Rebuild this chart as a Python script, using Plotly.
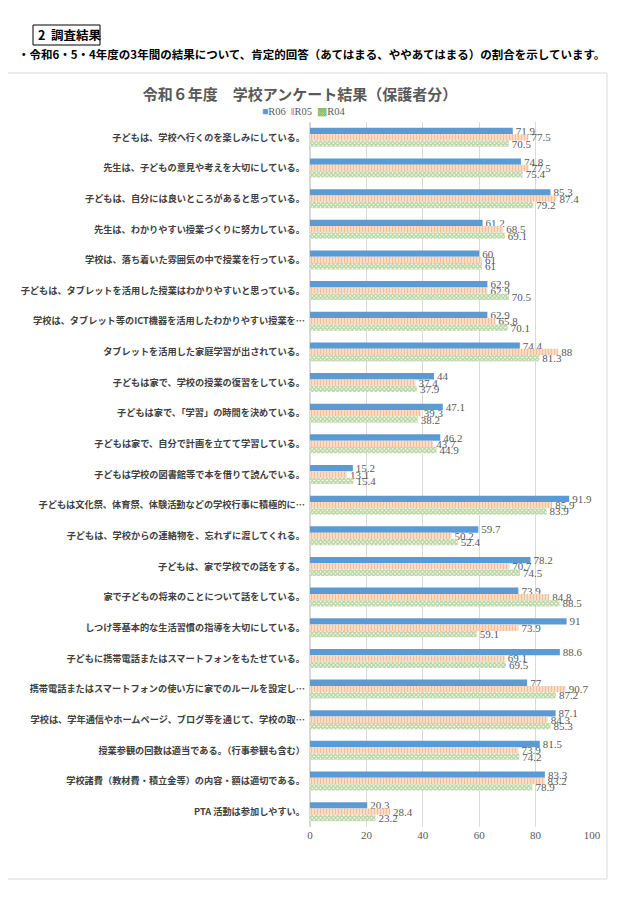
import plotly.graph_objects as go

categories = [
    "子どもは、学校へ行くのを楽しみにしている。",
    "先生は、子どもの意見や考えを大切にしている。",
    "子どもは、自分には良いところがあると思っている。",
    "先生は、わかりやすい授業づくりに努力している。",
    "学校は、落ち着いた雰囲気の中で授業を行っている。",
    "子どもは、タブレットを活用した授業はわかりやすいと思っている。",
    "学校は、タブレット等のICT機器を活用したわかりやすい授業を…",
    "タブレットを活用した家庭学習が出されている。",
    "子どもは家で、学校の授業の復習をしている。",
    "子どもは家で、「学習」の時間を決めている。",
    "子どもは家で、自分で計画を立てて学習している。",
    "子どもは学校の図書館等で本を借りて読んでいる。",
    "子どもは文化祭、体育祭、体験活動などの学校行事に積極的に…",
    "子どもは、学校からの連絡物を、忘れずに渡してくれる。",
    "子どもは、家で学校での話をする。",
    "家で子どもの将来のことについて話をしている。",
    "しつけ等基本的な生活習慣の指導を大切にしている。",
    "子どもに携帯電話またはスマートフォンをもたせている。",
    "携帯電話またはスマートフォンの使い方に家でのルールを設定し…",
    "学校は、学年通信やホームページ、ブログ等を通じて、学校の取…",
    "授業参観の回数は適当である。（行事参観も含む）",
    "学校諸費（教材費・積立金等）の内容・額は適切である。",
    "PTA 活動は参加しやすい。",
]
r06 = [71.9, 74.8, 85.3, 61.2, 60, 62.9, 62.9, 74.4, 44, 47.1, 46.2, 15.2, 91.9,
       59.7, 78.2, 73.9, 91, 88.6, 77, 87.1, 81.5, 83.3, 20.3]
r05 = [77.5, 77.5, 87.4, 68.5, 61, 62.9, 65.8, 88, 37.4, 39.3, 43.7, 13.1, 85.9,
       50.2, 70.7, 84.8, 73.9, 69.1, 90.7, 84.3, 73.9, 83.2, 28.4]
r04 = [70.5, 75.4, 79.2, 69.1, 61, 70.5, 70.1, 81.3, 37.9, 38.2, 44.9, 15.4, 83.9,
       52.4, 74.5, 88.5, 59.1, 69.5, 87.2, 85.3, 74.2, 78.9, 23.2]
series_names = ["R06", "R05", "R04"]
x_ticks = [0, 20, 40, 60, 80, 100]

# page offset (body margin) compensation
O = 8
W, H = 640 - O, 904 - O
ML, MR, MT, MB = 310 - O, 48, 122 - O, 77
PW, PH = W - ML - MR, H - MT - MB


def px(x):
    return (x - 310) / PW


def py(y):
    return (827 - y) / PH


SERIF = "Liberation Serif"
JP = "Noto Sans CJK JP"
GREY = "#595959"
COLORS = ["#5B9BD5", "#ED7D31", "#70AD47"]

fig = go.Figure()
styles = [
    dict(color=COLORS[0]),
    dict(color="white", pattern=dict(shape="|", fgcolor=COLORS[1], bgcolor="white",
                                     size=3, solidity=0.7, fillmode="overlay")),
    dict(color="white", pattern=dict(shape="x", fgcolor=COLORS[2], bgcolor="white",
                                     size=3, solidity=0.75, fillmode="overlay")),
]
for name, vals, st in zip(series_names, [r06, r05, r04], styles):
    fig.add_trace(go.Bar(
        y=categories, x=vals, name=name, orientation="h",
        marker=dict(line=dict(width=0), **st),
        text=[f"{v:g}" for v in vals], textposition="outside",
        textfont=dict(family=SERIF, size=11, color=GREY),
        constraintext="none", cliponaxis=False,
    ))

fig.update_layout(
    width=W, height=H,
    margin=dict(l=ML, r=MR, t=MT, b=MB, autoexpand=False),
    paper_bgcolor="white", plot_bgcolor="white",
    barmode="group", bargap=0.38, bargroupgap=0,
    title=dict(text="令和６年度　学校アンケート結果（保護者分）",
               x=(300 - O) / W, xanchor="center", y=1 - (95 - O) / H, yanchor="middle",
               xref="container", yref="container",
               font=dict(family=JP, size=15, color=GREY, weight="bold")),
    showlegend=False,
    xaxis=dict(range=[0, 100], tickvals=x_ticks, showgrid=True, gridcolor="#D9D9D9",
               gridwidth=1, zeroline=True, zerolinecolor="#D9D9D9", showline=False,
               tickfont=dict(family=SERIF, size=11, color=GREY), ticks=""),
    yaxis=dict(autorange="reversed", showgrid=False, ticks="", showline=False,
               tickfont=dict(family=JP, size=9.2, color="#404040", weight="bold"),
               ticklabelstandoff=4),
)

# legend (compact, as in the reference)
legend_text = (f'<span style="color:{COLORS[0]}">■</span>{series_names[0]}  '
               f'<span style="color:{COLORS[1]}"><b>ǁ</b></span>{series_names[1]}  '
               f'<span style="color:{COLORS[2]}">▩</span>{series_names[2]}')
fig.add_annotation(text=legend_text, xref="paper", yref="paper", x=px(304), y=py(112),
                   xanchor="center", yanchor="middle", showarrow=False,
                   font=dict(family=SERIF, size=10.5, color=GREY))

# chart frame
fig.add_shape(type="rect", xref="paper", yref="paper",
              x0=px(5), x1=px(607), y0=py(879), y1=py(73),
              line=dict(color="#D9D9D9", width=1), fillcolor="rgba(0,0,0,0)", layer="below")
# header box
fig.add_shape(type="rect", xref="paper", yref="paper",
              x0=px(33), x1=px(100), y0=py(45), y1=py(25),
              line=dict(color="#000000", width=1), fillcolor="rgba(0,0,0,0)")
fig.add_annotation(text="2\u00a0\u00a0調査結果", xref="paper", yref="paper", x=px(36), y=py(35),
                   xanchor="left", yanchor="middle", showarrow=False,
                   font=dict(family=JP, size=12.5, color="#000000", weight="bold"))
fig.add_annotation(text="・令和6・5・4年度の3年間の結果について、肯定的回答（あてはまる、ややあてはまる）の割合を示しています。",
                   xref="paper", yref="paper", x=px(16), y=py(54),
                   xanchor="left", yanchor="middle", showarrow=False,
                   font=dict(family=JP, size=11.5, color="#000000", weight="bold"))

fig.write_html("out.html")
